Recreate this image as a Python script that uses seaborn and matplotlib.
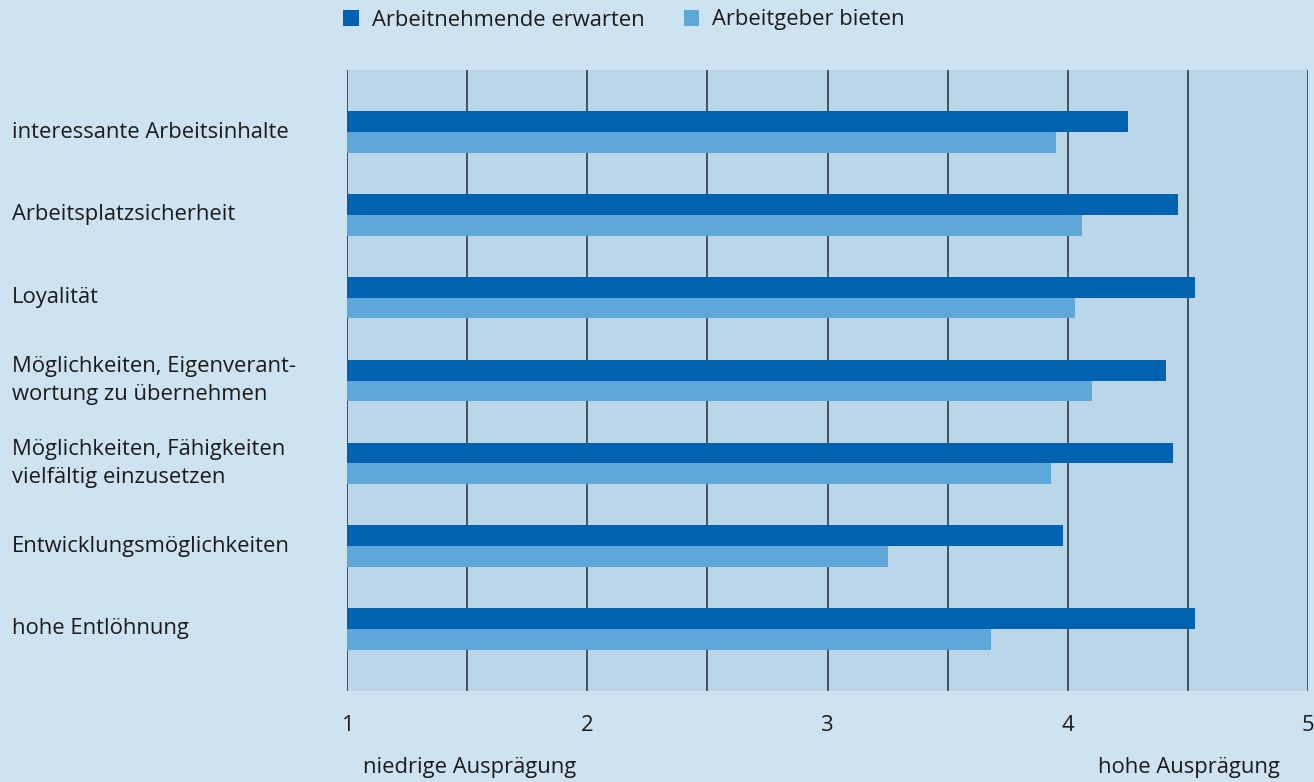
import matplotlib
matplotlib.use("Agg")
import matplotlib.pyplot as plt
import matplotlib.transforms as mtransforms
from matplotlib.patches import Patch
import seaborn as sns
import pandas as pd
import numpy as np

categories = [
    "interessante Arbeitsinhalte",
    "Arbeitsplatzsicherheit",
    "Loyalität",
    "Möglichkeiten, Eigenverant-\nwortung zu übernehmen",
    "Möglichkeiten, Fähigkeiten\nvielfältig einzusetzen",
    "Entwicklungsmöglichkeiten",
    "hohe Entlöhnung",
]
series_names = ["Arbeitnehmende erwarten", "Arbeitgeber bieten"]
arbeitnehmende = [4.25, 4.46, 4.53, 4.41, 4.44, 3.98, 4.53]
arbeitgeber = [3.95, 4.06, 4.03, 4.10, 3.93, 3.25, 3.68]
xticks = [1, 2, 3, 4, 5]

df = pd.DataFrame({
    "Kategorie": categories * 2,
    "Wert": arbeitnehmende + arbeitgeber,
    "Gruppe": [series_names[0]] * len(categories) + [series_names[1]] * len(categories),
})

outer_bg = "#cee3f1"
plot_bg = "#bcd6e9"
dark = "#0062b0"
light = "#5fa7d8"
txt = "#1a1a1a"
fs = 15.8

sns.set_theme(style="white")
plt.rcParams["font.family"] = ["Open Sans", "DejaVu Sans"]

fig = plt.figure(figsize=(13.14, 7.82), dpi=100, facecolor=outer_bg)
ax = fig.add_axes([347 / 1314, 1 - 691 / 782, (1308 - 347) / 1314, (691 - 70) / 782])
ax.set_facecolor(plot_bg)

sns.barplot(data=df, y="Kategorie", x="Wert", hue="Gruppe", order=categories,
            hue_order=series_names, palette=[dark, light], orient="h",
            width=0.5, linewidth=0, saturation=1, ax=ax, legend=False)

ax.set_xlim(1, 5)
ax.set_ylim(len(categories) - 0.25, -0.75)
ax.set_axisbelow(True)
for v in np.arange(1, 5.01, 0.5):
    ax.axvline(v, color="#46505a", lw=1.4, zorder=0.5)

ax.set_xticks(xticks)
ax.set_xticklabels([str(t) for t in xticks], fontsize=fs, color=txt)
ax.tick_params(axis="x", length=0, pad=17)
ax.tick_params(axis="y", length=0)
ax.set_yticklabels([])
ax.set_xlabel("")
ax.set_ylabel("")
for s in ax.spines.values():
    s.set_visible(False)

trans = mtransforms.blended_transform_factory(fig.transFigure, ax.transData)
for i, c in enumerate(categories):
    ax.text(12 / 1314, i, c, transform=trans, ha="left", va="center",
            fontsize=fs, color=txt, linespacing=1.4, clip_on=False)

fig.text(363 / 1314, 1 - 767 / 782, "niedrige Ausprägung", ha="left", va="center",
         fontsize=fs, color=txt)
fig.text(1280 / 1314, 1 - 767 / 782, "hohe Ausprägung", ha="right", va="center",
         fontsize=fs, color=txt)

handles = [Patch(facecolor=dark, edgecolor="none"), Patch(facecolor=light, edgecolor="none")]
fig.legend(handles, series_names, loc="center", bbox_to_anchor=(624 / 1314, 1 - 20 / 782),
           ncol=2, frameon=False, fontsize=fs, handlelength=0.7, handleheight=0.7,
           handletextpad=0.6, columnspacing=1.8, labelcolor=txt)

fig.savefig("out.png", dpi=100, facecolor=outer_bg)
